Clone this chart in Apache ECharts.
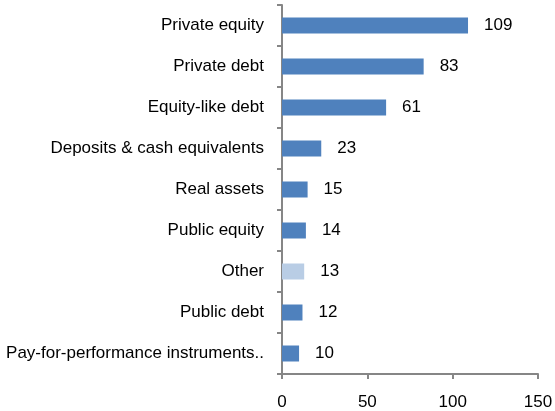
<!DOCTYPE html>
<html><head><meta charset="utf-8">
<script src="https://cdn.jsdelivr.net/npm/echarts@6/dist/echarts.min.js"></script>
<style>html,body{margin:0;padding:0;background:#fff}#c{width:555px;height:411px}</style>
</head><body><div id="c"></div>
<script>
const categories = ["Private equity","Private debt","Equity-like debt","Deposits & cash equivalents","Real assets","Public equity","Other","Public debt","Pay-for-performance instruments.."];
const values = [109,83,61,23,15,14,13,12,10];
const highlighted = ["Other"];
const xTicks = [0,50,100,150];

const chart = echarts.init(document.getElementById('c'), null, {renderer:'canvas'});
const font = 'Liberation Sans, Arial, sans-serif';
chart.setOption({
  animation:false,
  grid:{left:282,right:17,top:5,bottom:37,containLabel:false,outerBoundsMode:'none'},
  xAxis:{type:'value',min:xTicks[0],max:xTicks[xTicks.length-1],interval:50,
    axisLine:{show:true,lineStyle:{color:'#868686',width:2}},
    axisTick:{show:true,length:5,lineStyle:{color:'#868686',width:2}},
    splitLine:{show:false},
    axisLabel:{color:'#000',fontSize:17,fontFamily:font,margin:20}},
  yAxis:{type:'category',inverse:true,data:categories,
    axisLine:{show:true,lineStyle:{color:'#868686',width:2}},
    axisTick:{show:true,length:5,alignWithLabel:false,lineStyle:{color:'#868686',width:2}},
    axisLabel:{color:'#000',fontSize:17,fontFamily:font,margin:18}},
  series:[{type:'bar',barWidth:16,
    data:values.map((v,i)=>({value:v,itemStyle:{color:highlighted.includes(categories[i])?'#B9CDE5':'#4F81BD'}})),
    label:{show:true,position:'right',distance:16,color:'#000',fontSize:17,fontFamily:font}}]
});
</script></body></html>
